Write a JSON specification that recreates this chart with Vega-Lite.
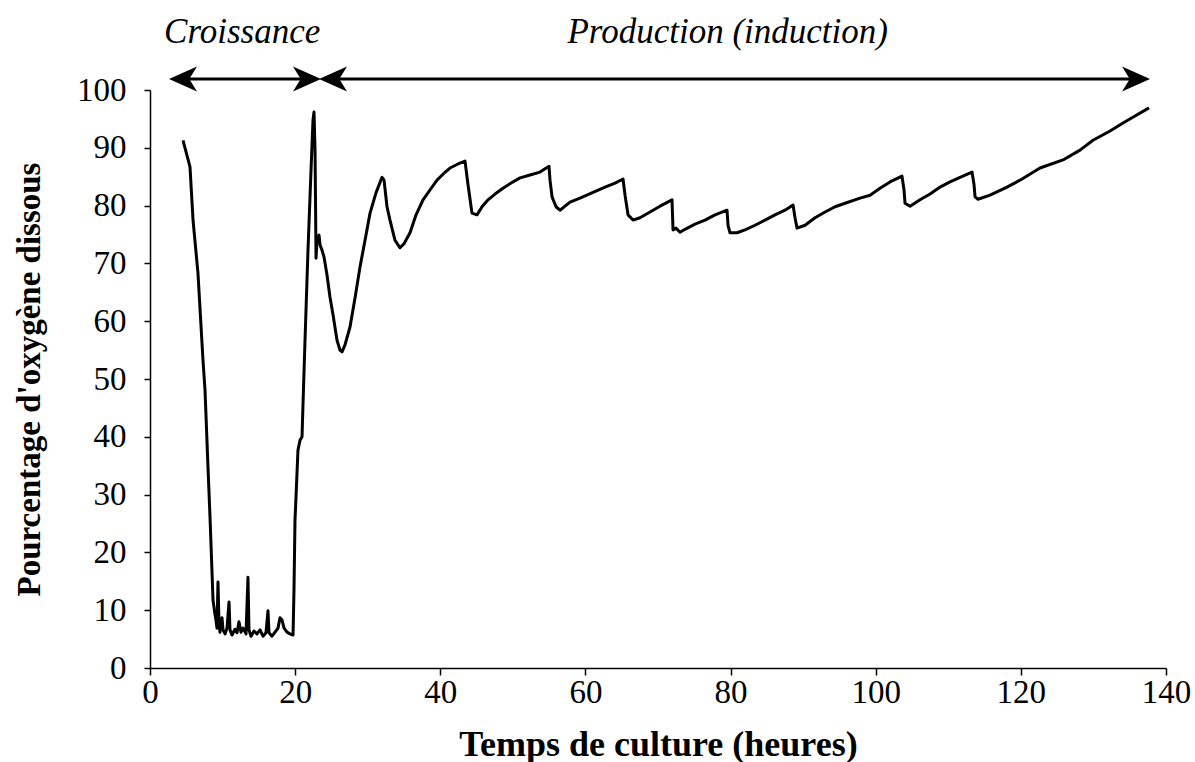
{
  "$schema": "https://vega.github.io/schema/vega-lite/v6.json",
  "width": 1016,
  "height": 578,
  "autosize": "none",
  "padding": {"left": 150, "top": 90, "right": 29, "bottom": 94},
  "background": "white",
  "config": {
    "view": {"stroke": null},
    "font": "Liberation Serif",
    "axis": {
      "grid": false,
      "domainColor": "black",
      "domainWidth": 1.5,
      "tickColor": "black",
      "tickWidth": 1.5,
      "labelFont": "Liberation Serif",
      "labelFontSize": 33,
      "labelColor": "black",
      "labelFlush": false,
      "labelOverlap": false,
      "titleFont": "Liberation Serif",
      "titleFontWeight": "bold",
      "titleColor": "black"
    }
  },
  "datasets": {
    "curve": [
      {"t": 4.55, "v": 91.3}, {"t": 5.51, "v": 86.7}, {"t": 5.93, "v": 77.5}, {"t": 6.61, "v": 68.3},
      {"t": 7.30, "v": 53.3}, {"t": 7.58, "v": 48.1}, {"t": 7.99, "v": 34.8}, {"t": 8.27, "v": 26.1},
      {"t": 8.55, "v": 16.4}, {"t": 8.68, "v": 11.8}, {"t": 8.96, "v": 9.2}, {"t": 9.09, "v": 8.3},
      {"t": 9.23, "v": 6.9}, {"t": 9.37, "v": 14.9}, {"t": 9.51, "v": 7.4}, {"t": 9.65, "v": 6.2},
      {"t": 9.92, "v": 8.7}, {"t": 10.06, "v": 6.6}, {"t": 10.34, "v": 5.9}, {"t": 10.61, "v": 6.9},
      {"t": 10.89, "v": 11.4}, {"t": 11.02, "v": 6.6}, {"t": 11.30, "v": 5.7}, {"t": 11.71, "v": 6.7},
      {"t": 11.99, "v": 6.1}, {"t": 12.26, "v": 8.0}, {"t": 12.54, "v": 6.2}, {"t": 12.82, "v": 6.9},
      {"t": 13.23, "v": 5.9}, {"t": 13.50, "v": 15.7}, {"t": 13.64, "v": 6.6}, {"t": 13.92, "v": 5.5},
      {"t": 14.33, "v": 6.4}, {"t": 14.74, "v": 5.9}, {"t": 15.16, "v": 6.6}, {"t": 15.57, "v": 5.5},
      {"t": 15.98, "v": 6.1}, {"t": 16.26, "v": 9.9}, {"t": 16.40, "v": 6.1}, {"t": 16.81, "v": 5.5},
      {"t": 17.23, "v": 6.2}, {"t": 17.64, "v": 6.9}, {"t": 17.91, "v": 8.7}, {"t": 18.19, "v": 8.3},
      {"t": 18.47, "v": 6.9}, {"t": 18.88, "v": 6.2}, {"t": 19.29, "v": 5.9}, {"t": 19.71, "v": 5.7},
      {"t": 19.84, "v": 13.5}, {"t": 19.98, "v": 25.6}, {"t": 20.12, "v": 29.6}, {"t": 20.39, "v": 37.7},
      {"t": 20.67, "v": 39.4}, {"t": 20.95, "v": 40.0}, {"t": 21.08, "v": 45.5}, {"t": 21.36, "v": 56.7},
      {"t": 21.77, "v": 72.3}, {"t": 22.19, "v": 86.2}, {"t": 22.46, "v": 94.8}, {"t": 22.60, "v": 96.2},
      {"t": 22.74, "v": 89.6}, {"t": 22.88, "v": 70.9}, {"t": 23.01, "v": 74.0}, {"t": 23.29, "v": 74.9},
      {"t": 23.43, "v": 73.2}, {"t": 23.70, "v": 72.3}, {"t": 23.98, "v": 71.1}, {"t": 24.39, "v": 68.0},
      {"t": 24.80, "v": 64.2}, {"t": 25.22, "v": 61.1}, {"t": 25.77, "v": 56.7}, {"t": 26.18, "v": 55.0},
      {"t": 26.46, "v": 54.7}, {"t": 26.87, "v": 55.9}, {"t": 27.56, "v": 59.0}, {"t": 28.25, "v": 64.0},
      {"t": 28.94, "v": 69.4}, {"t": 29.63, "v": 74.0}, {"t": 30.32, "v": 78.7}, {"t": 31.14, "v": 82.2},
      {"t": 31.97, "v": 84.9}, {"t": 32.25, "v": 84.4}, {"t": 32.66, "v": 79.8}, {"t": 33.07, "v": 77.5},
      {"t": 33.76, "v": 74.0}, {"t": 34.45, "v": 72.7}, {"t": 35.00, "v": 73.4}, {"t": 35.83, "v": 75.3},
      {"t": 36.66, "v": 78.4}, {"t": 37.62, "v": 81.0}, {"t": 38.58, "v": 82.7}, {"t": 39.55, "v": 84.4},
      {"t": 40.51, "v": 85.6}, {"t": 41.34, "v": 86.5}, {"t": 42.44, "v": 87.2}, {"t": 43.41, "v": 87.7},
      {"t": 43.82, "v": 83.6}, {"t": 44.37, "v": 78.7}, {"t": 45.06, "v": 78.4}, {"t": 45.75, "v": 79.8},
      {"t": 46.58, "v": 81.0}, {"t": 47.54, "v": 82.0}, {"t": 48.64, "v": 83.0}, {"t": 49.75, "v": 83.9},
      {"t": 50.99, "v": 84.8}, {"t": 52.36, "v": 85.3}, {"t": 53.74, "v": 85.8}, {"t": 54.98, "v": 86.8},
      {"t": 55.12, "v": 84.4}, {"t": 55.40, "v": 81.5}, {"t": 55.95, "v": 79.8}, {"t": 56.50, "v": 79.2},
      {"t": 57.19, "v": 79.9}, {"t": 57.88, "v": 80.6}, {"t": 59.25, "v": 81.3}, {"t": 61.05, "v": 82.3},
      {"t": 62.70, "v": 83.2}, {"t": 64.08, "v": 83.9}, {"t": 65.18, "v": 84.6}, {"t": 65.46, "v": 81.8},
      {"t": 65.87, "v": 78.4}, {"t": 66.56, "v": 77.5}, {"t": 67.52, "v": 77.9}, {"t": 68.90, "v": 78.9},
      {"t": 70.28, "v": 79.9}, {"t": 71.93, "v": 81.0}, {"t": 72.07, "v": 75.8}, {"t": 72.48, "v": 76.1},
      {"t": 73.03, "v": 75.4}, {"t": 73.72, "v": 75.9}, {"t": 75.10, "v": 76.8}, {"t": 76.48, "v": 77.5},
      {"t": 77.86, "v": 78.4}, {"t": 79.51, "v": 79.2}, {"t": 79.65, "v": 76.6}, {"t": 79.92, "v": 75.3},
      {"t": 80.89, "v": 75.3}, {"t": 81.99, "v": 75.8}, {"t": 83.37, "v": 76.6}, {"t": 84.75, "v": 77.5},
      {"t": 86.12, "v": 78.4}, {"t": 87.50, "v": 79.2}, {"t": 88.61, "v": 80.1}, {"t": 88.88, "v": 77.9},
      {"t": 89.16, "v": 76.1}, {"t": 90.26, "v": 76.6}, {"t": 91.64, "v": 77.9}, {"t": 93.02, "v": 78.9},
      {"t": 94.40, "v": 79.8}, {"t": 95.78, "v": 80.4}, {"t": 97.84, "v": 81.3}, {"t": 99.22, "v": 81.8},
      {"t": 100.59, "v": 83.0}, {"t": 101.97, "v": 84.1}, {"t": 103.62, "v": 85.1}, {"t": 103.90, "v": 82.7},
      {"t": 104.04, "v": 80.4}, {"t": 104.73, "v": 79.9}, {"t": 106.11, "v": 81.0}, {"t": 107.49, "v": 82.0},
      {"t": 108.87, "v": 83.2}, {"t": 110.24, "v": 84.1}, {"t": 111.62, "v": 84.9}, {"t": 113.27, "v": 85.8},
      {"t": 113.55, "v": 83.6}, {"t": 113.69, "v": 81.5}, {"t": 114.10, "v": 81.1}, {"t": 115.75, "v": 81.8},
      {"t": 118.09, "v": 83.2}, {"t": 119.88, "v": 84.4}, {"t": 122.64, "v": 86.5}, {"t": 125.81, "v": 87.9},
      {"t": 128.15, "v": 89.6}, {"t": 129.94, "v": 91.3}, {"t": 132.29, "v": 92.9}, {"t": 134.08, "v": 94.3},
      {"t": 135.73, "v": 95.5}, {"t": 137.66, "v": 96.9}
    ],
    "phases": [
      {"t": 4.55, "t2": 21.63, "v": 101.9},
      {"t": 25.22, "t2": 135.87, "v": 101.9}
    ],
    "heads": [
      {"t": 4.55, "v": 101.9, "dir": "left"},
      {"t": 21.63, "v": 101.9, "dir": "right"},
      {"t": 25.22, "v": 101.9, "dir": "left"},
      {"t": 135.87, "v": 101.9, "dir": "right"}
    ],
    "labels": [
      {"t": 12.7, "v": 110.0, "label": "Croissance"},
      {"t": 79.6, "v": 110.0, "label": "Production (induction)"}
    ]
  },
  "encoding": {
    "x": {
      "field": "t",
      "type": "quantitative",
      "scale": {"domain": [0, 140], "nice": false, "zero": false},
      "axis": {
        "values": [0, 20, 40, 60, 80, 100, 120, 140],
        "title": "Temps de culture (heures)",
        "titleFontSize": 36,
        "tickSize": 7,
        "labelPadding": 1,
        "titlePadding": 18
      }
    },
    "y": {
      "field": "v",
      "type": "quantitative",
      "scale": {"domain": [0, 100], "nice": false, "zero": false},
      "axis": {
        "values": [0, 10, 20, 30, 40, 50, 60, 70, 80, 90, 100],
        "title": "Pourcentage d'oxygène dissous",
        "titleFontSize": 33,
        "tickSize": 6,
        "labelPadding": 18,
        "titlePadding": 30
      }
    }
  },
  "layer": [
    {
      "data": {"name": "curve"},
      "mark": {"type": "line", "color": "black", "strokeWidth": 3, "strokeJoin": "round", "clip": false}
    },
    {
      "data": {"name": "phases"},
      "mark": {"type": "rule", "color": "black", "strokeWidth": 3},
      "encoding": {"x2": {"field": "t2"}}
    },
    {
      "data": {"name": "heads"},
      "mark": {"type": "point", "filled": true, "color": "black", "opacity": 1, "strokeWidth": 0},
      "encoding": {
        "shape": {
          "field": "dir",
          "type": "nominal",
          "scale": {
            "domain": ["left", "right"],
            "range": ["M-1,0L1,-0.9L0.45,0L1,0.9Z", "M1,0L-1,-0.9L-0.45,0L-1,0.9Z"]
          },
          "legend": null
        },
        "size": {"value": 784}
      }
    },
    {
      "data": {"name": "labels"},
      "mark": {
        "type": "text",
        "font": "Liberation Serif",
        "fontStyle": "italic",
        "fontSize": 35,
        "color": "black",
        "align": "center",
        "baseline": "middle"
      },
      "encoding": {"text": {"field": "label"}}
    }
  ]
}
